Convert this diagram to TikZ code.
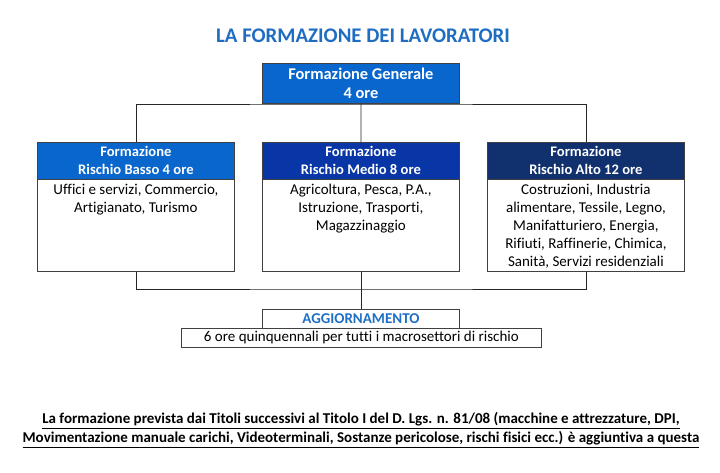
\documentclass[tikz,border=0pt]{standalone}
\usepackage{fontspec}
\setmainfont{Carlito}[Ligatures=NoCommon]
\definecolor{titleblue}{HTML}{1F6DC2}
\definecolor{hblue}{HTML}{0866CC}
\definecolor{hroyal}{HTML}{0836A6}
\definecolor{hnavy}{HTML}{10306E}
\definecolor{aggblue}{HTML}{1F6FC5}
\definecolor{edge}{HTML}{404040}
\tikzset{
  hdr/.style={draw=edge, line width=0.8pt, minimum width=197pt, minimum height=37pt, inner sep=0pt,
    text=white, font=\fontsize{14.6}{18}\selectfont\bfseries, align=center, anchor=north west},
  bodybox/.style={draw=edge, line width=0.8pt, minimum width=197pt, minimum height=92pt, inner sep=0pt, anchor=north west},
  bodytxt/.style={font=\fontsize{15}{18}\selectfont, align=center, anchor=north, inner sep=0pt},
  conn/.style={draw=black!85, line width=0.7pt},
}
\begin{document}
\begin{tikzpicture}[x=1pt,y=-1pt]
\useasboundingbox (0,0) rectangle (720,472);
\node[font=\fontsize{20.8}{24}\selectfont\bfseries, text=titleblue] (title) at (363,36) {LA FORMAZIONE DEI LAVORATORI};
\node[hdr, fill=hblue, minimum height=40pt, font=\fontsize{16.4}{19}\selectfont\bfseries] (gen) at (262,63) {Formazione Generale\\4 ore};

\node[hdr, fill=hblue] (h1) at (37,142) {Formazione\\Rischio Basso 4 ore};
\node[hdr, fill=hroyal] (h2) at (262,142) {Formazione\\Rischio Medio 8 ore};
\node[hdr, fill=hnavy] (h3) at (487,142) {Formazione\\Rischio Alto 12 ore};

\node[bodybox] (b1) at (37,179) {};
\node[bodybox] (b2) at (262,179) {};
\node[bodybox] (b3) at (487,179) {};
\node[bodytxt] (t1) at ([yshift=-5pt]b1.north) {Uffici e servizi, Commercio,\\Artigianato, Turismo};
\node[bodytxt] (t2) at ([yshift=-5pt]b2.north) {Agricoltura, Pesca, P.A.,\\Istruzione, Trasporti,\\Magazzinaggio};
\node[bodytxt] (t3) at ([yshift=-5pt]b3.north) {Costruzioni, Industria\\alimentare, Tessile, Legno,\\Manifatturiero, Energia,\\Rifiuti, Raffinerie, Chimica,\\Sanità, Servizi residenziali};

\node[draw=edge, line width=0.8pt, minimum width=197pt, minimum height=19pt, inner sep=0pt, anchor=north west,
  font=\fontsize{15}{16}\selectfont\bfseries, text=aggblue] (agg) at (262,309) {AGGIORNAMENTO};
\node[draw=edge, line width=0.8pt, minimum width=360pt, minimum height=19pt, inner sep=0pt, anchor=north west,
  font=\fontsize{15}{16}\selectfont] (six) at (181,328) {6 ore quinquennali per tutti i macrosettori di rischio};

\coordinate (top) at (361,104);
\coordinate (bot) at (361,289);
\draw[conn] (h1.north) |- (top) -| (h3.north);
\draw[conn] (h2.north) -- (top);
\draw[conn] (b1.south) |- (bot) -| (b3.south);
\draw[conn] (b2.south) -- (agg.north);

\node[font=\fontsize{15}{19}\selectfont\bfseries, align=center] (note) at (361,430)
 {\underline{La formazione prevista dai Titoli successivi al Titolo I del D. Lgs. n. 81/08 (macchine e attrezzature, DPI,}\\
  \underline{Movimentazione manuale carichi, Videoterminali, Sostanze pericolose, rischi fisici ecc.) è aggiuntiva a questa}};
\end{tikzpicture}
\end{document}
